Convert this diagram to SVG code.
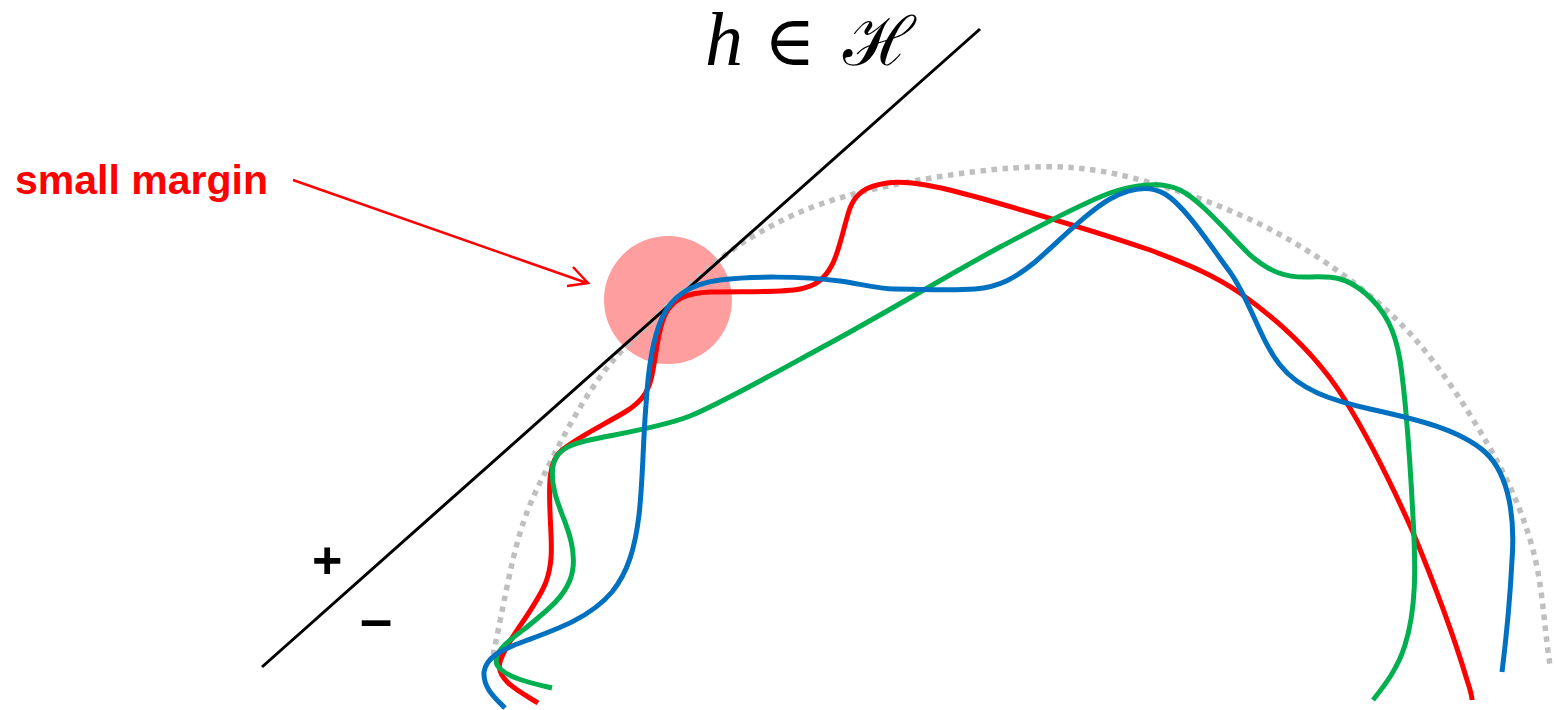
<svg xmlns="http://www.w3.org/2000/svg" width="1556" height="710" viewBox="0 0 1556 710">
<style>
.curve{fill:none;stroke-width:5;stroke-linecap:butt;stroke-linejoin:round}
.red{stroke:#FF0000}
.green{stroke:#00B050}
.blue{stroke:#0070C0}
.dots{fill:none;stroke:#BFBFBF;stroke-width:5.5;stroke-dasharray:5.5 5.5}
.sign{font-family:"Liberation Sans",Arial,sans-serif;font-weight:bold;fill:#000}
</style>
<rect width="1556" height="710" fill="#FFFFFF"/>

<g id="title">
<text y="65" font-family="'DejaVu Serif','Liberation Serif',serif" font-size="70" fill="#000"><tspan x="705" font-family="'Liberation Serif',serif" font-style="italic" font-size="76">h</tspan><tspan x="764">∈</tspan><tspan x="843" font-size="68">ℋ</tspan></text>
</g>

<g id="margin-circle">
<circle cx="668" cy="300" r="64" fill="#FF9E9E"/>
</g>

<g id="data-sphere">
<path class="dots" d="M493,655 C502,614 510,566 520,533 C530,500 540,483 553,457 C566,431 582,402 600,377 C618,352 639,333 663,310 C688,287 716,259 747,240 C778,221 806,207 850,195 C894,183 966,171 1013,168 C1060,165 1089,167 1133,178 C1177,189 1233,209 1277,233 C1321,257 1365,288 1400,323 C1435,358 1465,405 1487,443 C1509,481 1523,513 1533,550 C1543,587 1544,627 1550,665"/>
</g>

<g id="hyperplane">
<line x1="262" y1="667" x2="980" y2="29" stroke="#000" stroke-width="3"/>
</g>

<g id="label-plus"><text class="sign" x="312" y="578" font-size="52">+</text></g>
<g id="label-minus"><text class="sign" x="360" y="639" font-size="58">–</text></g>

<g id="label-small-margin">
<text x="15" y="194" font-family="'Liberation Sans',Arial,sans-serif" font-weight="bold" font-size="41" fill="#FF0000" textLength="253" lengthAdjust="spacingAndGlyphs">small margin</text>
</g>

<g id="curve-red">
<path class="curve red" d="M538,703 C522,693 495,680 500,662 C506,640 535,610 546,582 C554,560 551,540 550,512 C549,485 548,462 562,450 C578,437 605,424 625,412 C645,400 650,388 653,370 C657,350 658,330 665,315 C673,298 688,293 710,292 C740,291 780,293 800,289 C815,286 824,280 832,265 C840,250 844,225 850,208 C856,193 866,186 887,183 C910,180 940,187 980,198 C1040,215 1100,233 1150,250 C1190,265 1215,276 1240,293 C1285,325 1320,360 1345,400 C1370,440 1395,492 1412,530 C1432,578 1455,640 1467,680 C1471,692 1472,697 1472,700"/>
</g>
<g id="curve-green">
<path class="curve green" d="M552,688 C535,684 505,678 497,665 C492,652 510,640 527,627 C545,612 562,600 570,580 C577,562 572,540 565,522 C558,504 550,485 553,466 C556,452 565,446 585,441 C610,435 660,428 690,416 C720,404 780,370 830,343 C880,316 950,274 1000,247 C1040,226 1080,204 1110,193 C1130,186 1160,180 1180,190 C1200,200 1225,230 1250,255 C1270,272 1285,278 1310,277 C1335,276 1347,278 1365,293 C1385,310 1395,330 1400,360 C1406,400 1410,460 1413,517 C1416,570 1416,610 1405,645 C1398,668 1385,685 1373,700"/>
</g>
<g id="curve-blue">
<path class="curve blue" d="M505,708 C495,698 483,688 484,672 C486,658 500,650 525,641 C555,630 590,618 612,592 C628,572 635,548 639,515 C643,480 643,440 646,405 C648,370 652,340 662,318 C672,296 690,284 720,280 C750,276 800,276 840,281 C860,284 880,289 895,289 C920,289 950,291 975,289 C1000,287 1015,278 1035,262 C1060,240 1090,210 1110,199 C1130,188 1150,185 1165,194 C1185,206 1210,245 1230,272 C1250,300 1260,340 1280,365 C1300,390 1330,400 1370,409 C1420,420 1460,430 1485,452 C1510,475 1515,520 1512,560 C1510,600 1506,640 1502,672"/>
</g>

<g id="connectors">
<path d="M293,180 L587,283 M573,267 L588,283 L567,286" fill="none" stroke="#FF0000" stroke-width="2.5" stroke-linejoin="miter"/>
</g>
</svg>
